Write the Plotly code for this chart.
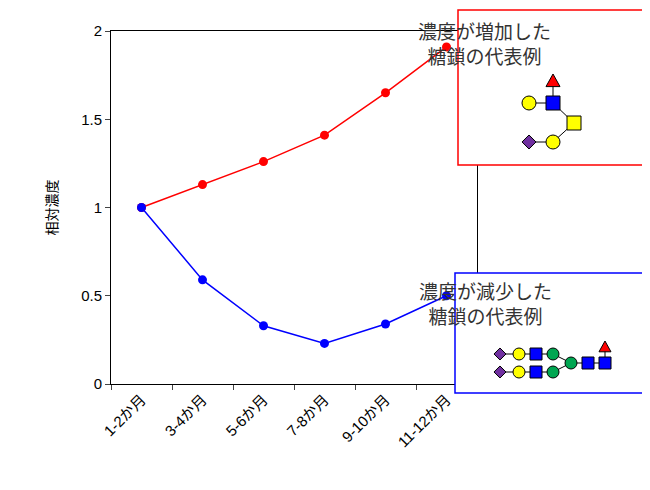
import plotly.graph_objects as go

months = ['1-2か月', '3-4か月', '5-6か月', '7-8か月', '9-10か月', '11-12か月']
increased = [1.0, 1.13, 1.26, 1.41, 1.65, 1.91]
decreased = [1.0, 0.59, 0.33, 0.23, 0.34, 0.50]

# glycan icon pieces (pixel layout)
up_x = [545, 521, 545, 566, 521, 545]
up_y = [73, 95, 95, 115, 134, 134]
up_sym = ['triangle', 'circle', 'square', 'square', 'diamond', 'circle']
up_col = ['red', 'yellow', 'blue', 'yellow', '#7030a0', 'yellow']
up_links = [(1, 2), (0, 2), (2, 3), (3, 5), (4, 5)]

dn_x = [492, 511, 528, 545, 492, 511, 528, 545, 563, 580, 597, 597]
dn_y = [346, 346, 346, 346, 364, 364, 364, 364, 355, 355, 355, 339]
dn_sym = ['diamond', 'circle', 'square', 'circle'] * 2 + ['circle', 'square', 'square', 'triangle']
dn_col = ['#7030a0', 'yellow', 'blue', '#00a651'] * 2 + ['#00a651', 'blue', 'blue', 'red']
dn_links = [(0, 1), (1, 2), (2, 3), (4, 5), (5, 6), (6, 7), (3, 8), (7, 8), (8, 9), (9, 10), (10, 11)]

L, R, T, B = 103, 469, 23, 376


def px(v):
    return (v - L) / (R - L)


def py(v):
    return (B - v) / (B - T)


def icon(x, y, sym, col, r):
    base = dict(xref='paper', yref='paper', fillcolor=col, line=dict(color='black', width=1), layer='above')
    if sym in ('circle', 'square'):
        return dict(base, type='circle' if sym == 'circle' else 'rect',
                    x0=px(x - r), x1=px(x + r), y0=py(y + r), y1=py(y - r))
    if sym == 'diamond':
        pts = [(x, y - r), (x + r, y), (x, y + r), (x - r, y)]
    else:
        pts = [(x, y - r), (x + r, y + r * 0.8), (x - r, y + r * 0.8)]
    path = 'M ' + ' L '.join(f'{px(a):.4f},{py(b):.4f}' for a, b in pts) + ' Z'
    return dict(base, type='path', path=path)


fig = go.Figure()
fig.add_trace(go.Scatter(x=months, y=increased, mode='lines+markers',
                         line=dict(color='red', width=1.5), marker=dict(size=9, color='red')))
fig.add_trace(go.Scatter(x=months, y=decreased, mode='lines+markers',
                         line=dict(color='blue', width=1.5), marker=dict(size=9, color='blue')))

shapes = [
    dict(type='rect', xref='paper', yref='paper', x0=px(450), x1=px(640), y0=py(157), y1=py(2),
         line=dict(color='red', width=1.5), fillcolor='white', layer='above'),
    dict(type='rect', xref='paper', yref='paper', x0=px(447), x1=px(645), y0=py(385), y1=py(265),
         line=dict(color='blue', width=1.5), fillcolor='white', layer='above'),
]
for xs, ys, syms, cols, links, r in [(up_x, up_y, up_sym, up_col, up_links, 7),
                                     (dn_x, dn_y, dn_sym, dn_col, dn_links, 6)]:
    for a, b in links:
        shapes.append(dict(type='line', xref='paper', yref='paper', layer='above',
                           x0=px(xs[a]), x1=px(xs[b]), y0=py(ys[a]), y1=py(ys[b]),
                           line=dict(color='black', width=1)))
    for x, y, s, c in zip(xs, ys, syms, cols):
        shapes.append(icon(x, y, s, c, r))

fig.update_layout(
    width=650, height=490, showlegend=False,
    margin=dict(l=L, r=650 - R, t=T, b=490 - B, autoexpand=False),
    plot_bgcolor='white', paper_bgcolor='white',
    font=dict(family='Liberation Sans, Noto Sans CJK JP', size=15, color='black'),
    xaxis=dict(range=[-0.5, 5.5], tickangle=-45, ticks='outside', tickson='boundaries',
               showline=True, linecolor='black', mirror=True, showgrid=False, ticklen=5),
    yaxis=dict(range=[0, 2], dtick=0.5, ticks='outside', showline=True, linecolor='black',
               mirror=True, showgrid=False, zeroline=False, ticklen=5,
               title=dict(text='相対濃度', font=dict(size=14), standoff=20)),
    shapes=shapes,
    annotations=[
        dict(xref='paper', yref='paper', x=px(545), y=py(37), text='濃度が増加した<br>糖鎖の代表例',
             showarrow=False, font=dict(size=19, color='#333'), yanchor='middle'),
        dict(xref='paper', yref='paper', x=px(546), y=py(297), text='濃度が減少した<br>糖鎖の代表例',
             showarrow=False, font=dict(size=19, color='#333'), yanchor='middle'),
    ],
)
fig.write_html('out.html')
